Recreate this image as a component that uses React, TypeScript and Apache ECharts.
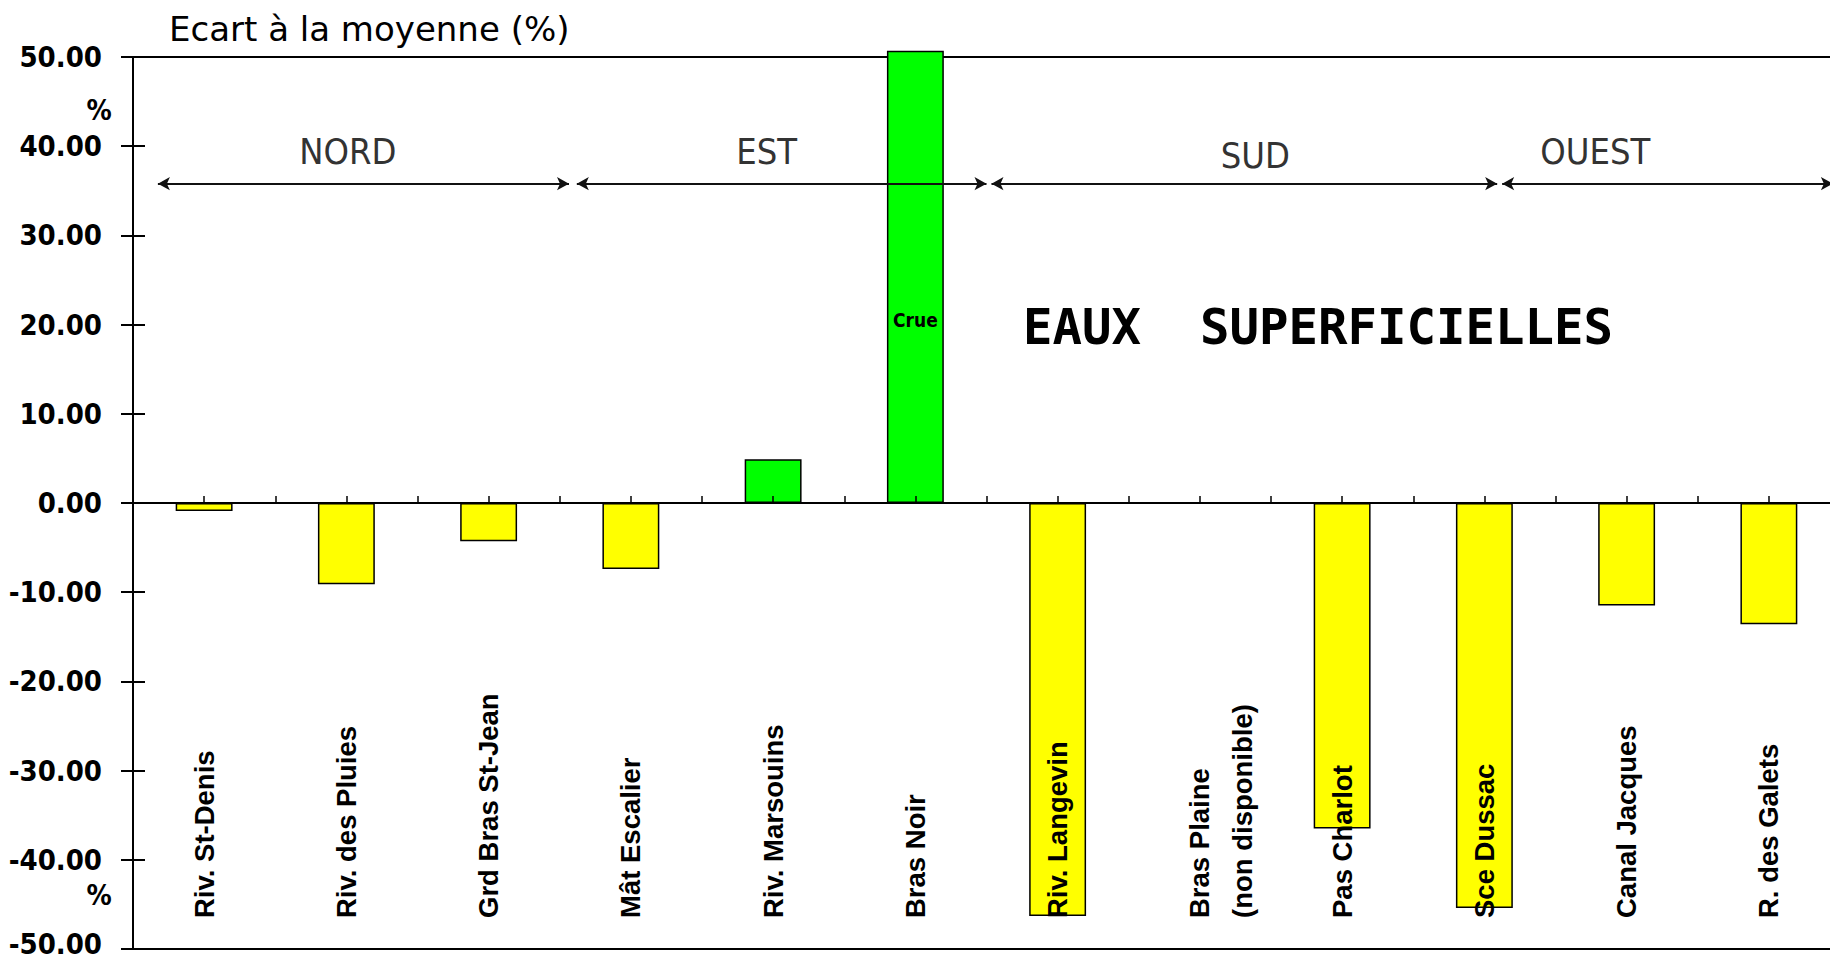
import React, { useEffect, useRef } from "react";
import * as echarts from "echarts";

// Stations (category axis) and their deviation from the mean, in %
const stations = [
  "Riv. St-Denis",
  "Riv. des Pluies",
  "Grd Bras St-Jean",
  "Mât Escalier",
  "Riv. Marsouins",
  "Bras Noir",
  "Riv. Langevin",
  "Bras Plaine\n(non disponible)",
  "Pas Charlot",
  "Sce Dussac",
  "Canal Jacques",
  "R. des Galets",
];
const deviation: (number | null)[] = [
  -0.9, -9.1, -4.3, -7.4, 4.9, 50.7, -46.3, null, -36.5, -45.4, -11.5, -13.6,
];
const floodStation = "Bras Noir";
const floodLabel = "Crue";

// Y axis scale
const yMin = -50;
const yMax = 50;
const yStep = 10;

// Regions, expressed on a half-category scale (0..24)
const regionNames = ["NORD", "EST", "SUD", "OUEST"];
const regionFrom = [0.35, 6.24, 12.07, 19.25];
const regionTo = [6.13, 12.0, 19.18, 23.9];
const regionLabelX = [3.02, 8.91, 15.78, 20.56];
const regionLabelY = [39.35, 39.35, 39.0, 39.35];
const regionArrowY = 35.8;

const title = "Ecart à la moyenne (%)";
const heading = "EAUX  SUPERFICIELLES";

const NARROW =
  '"Liberation Sans Narrow", "Arial Narrow", "DejaVu Sans Condensed", sans-serif';
const ARIAL = '"Liberation Sans", Arial, sans-serif';

export default function App() {
  const ref = useRef<HTMLDivElement>(null);

  useEffect(() => {
    if (!ref.current) return;
    const chart = echarts.init(ref.current, undefined, { renderer: "svg" });

    const barData = deviation.map((v, i) =>
      stations[i] === floodStation
        ? {
            value: v,
            label: {
              show: true,
              formatter: floodLabel,
              position: ["50%", "59.5%"],
              align: "center",
              verticalAlign: "middle",
              fontFamily: NARROW,
              fontWeight: "bold",
              fontSize: 19,
              color: "#000",
            },
          }
        : v
    );

    const arrowLines = regionNames.map((_, i) => [
      { coord: [regionFrom[i], regionArrowY] },
      { coord: [regionTo[i], regionArrowY] },
    ]);

    const regionPoints = regionNames.map((n, i) => ({
      name: n,
      coord: [regionLabelX[i], regionLabelY[i]],
    }));

    const yAxisBase = {
      type: "value",
      min: yMin,
      max: yMax,
      interval: yStep,
      position: "left",
      splitLine: { show: false },
      axisLine: { show: false, onZero: false },
    };

    const yLabelFont = {
      fontFamily: NARROW,
      fontWeight: "bold",
      fontSize: 29,
      lineHeight: 24,
      color: "#000",
    };

    chart.setOption({
      animation: false,
      backgroundColor: "#ffffff",
      grid: {
        left: 133,
        right: 0,
        top: 57,
        bottom: 15,
        outerBoundsMode: "none",
        containLabel: false,
        show: true,
        borderColor: "#000",
        borderWidth: 2,
        backgroundColor: "transparent",
      },
      xAxis: [
        {
          type: "category",
          data: stations,
          position: "bottom",
          z: 10,
          axisLine: { show: false, onZero: false },
          axisTick: { show: false },
          axisLabel: {
            inside: true,
            rotate: 90,
            interval: 0,
            margin: 31,
            lineHeight: 43,
            // a two-line name keeps its first line on the tick
            formatter: (v: string) => (v.includes("\n") ? "\n" + v : v),
            fontFamily: ARIAL,
            fontWeight: "bold",
            fontSize: 27.5,
            color: "#000",
          },
        },
        {
          type: "value",
          min: 0,
          max: 24,
          interval: 1,
          position: "bottom",
          z: 10,
          axisLine: { show: true, onZero: true, lineStyle: { color: "#000", width: 2 } },
          axisTick: { show: true, inside: true, length: 7, lineStyle: { color: "#000", width: 1.5 } },
          axisLabel: { show: false },
          splitLine: { show: false },
        },
      ],
      yAxis: [
        {
          ...yAxisBase,
          axisLine: { show: true, onZero: false, lineStyle: { color: "#000", width: 2 } },
          axisTick: { show: true, length: 12, lineStyle: { color: "#000", width: 2 } },
          axisLabel: {
            // the lowest label is nudged up so it stays on the page
            formatter: (v: number) =>
              v === yMin ? `{low|${v.toFixed(2)}}` : v.toFixed(2),
            margin: 31,
            ...yLabelFont,
            rich: { low: { ...yLabelFont, padding: [0, 0, 10, 0] } },
          },
        },
        {
          ...yAxisBase,
          axisTick: { show: true, inside: true, length: 12, lineStyle: { color: "#000", width: 2 } },
          axisLabel: { show: false },
        },
      ],
      series: [
        {
          type: "bar",
          xAxisIndex: 0,
          yAxisIndex: 0,
          data: barData,
          barWidth: "40%",
          clip: false,
          itemStyle: {
            color: (p: any) => (p.value >= 0 ? "#00FF00" : "#FFFF00"),
            borderColor: "#000",
            borderWidth: 1.5,
          },
        },
        {
          type: "line",
          xAxisIndex: 1,
          yAxisIndex: 0,
          data: [],
          z: 5,
          silent: true,
          markLine: {
            silent: true,
            symbol: ["arrow", "arrow"],
            symbolSize: [10, 12],
            label: { show: false },
            lineStyle: { color: "#111", width: 2, type: "solid" },
            data: arrowLines,
          },
          markPoint: {
            silent: true,
            symbol: "rect",
            symbolSize: 1,
            itemStyle: { color: "transparent" },
            label: {
              show: true,
              position: "inside",
              formatter: (p: any) => p.name,
              fontFamily: NARROW,
              fontWeight: "normal",
              fontSize: 36,
              color: "#333",
            },
            data: regionPoints,
          },
        },
      ],
      graphic: [
        {
          type: "text",
          left: 169,
          top: 12,
          style: {
            text: title,
            fontFamily: '"DejaVu Sans", sans-serif',
            fontSize: 34,
            fill: "#000",
          },
        },
        {
          type: "text",
          x: 99,
          y: 110,
          style: {
            text: "%",
            align: "center",
            verticalAlign: "middle",
            fontFamily: NARROW,
            fontWeight: "bold",
            fontSize: 28,
            fill: "#000",
          },
        },
        {
          type: "text",
          x: 99,
          y: 895,
          style: {
            text: "%",
            align: "center",
            verticalAlign: "middle",
            fontFamily: NARROW,
            fontWeight: "bold",
            fontSize: 28,
            fill: "#000",
          },
        },
        {
          type: "text",
          x: 1023,
          y: 327,
          style: {
            text: heading,
            verticalAlign: "middle",
            fontFamily: '"DejaVu Sans Mono", monospace',
            fontWeight: "bold",
            fontSize: 49,
            fill: "#000",
          },
        },
      ],
    });

    return () => chart.dispose();
  }, []);

  return (
    <div
      style={{
        position: "fixed",
        left: 0,
        top: 0,
        width: 1830,
        height: 964,
        overflow: "hidden",
        background: "#fff",
      }}
    >
      <div ref={ref} style={{ width: 1840, height: 964 }} />
    </div>
  );
}
